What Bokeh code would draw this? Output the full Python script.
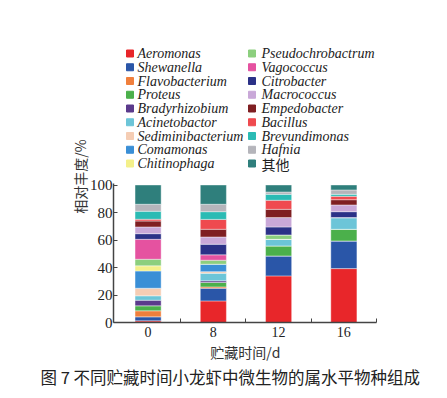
from bokeh.plotting import figure
from bokeh.models import FixedTicker, Title, ColumnDataSource
from bokeh.embed import file_html
from bokeh.resources import INLINE

days = ["0", "8", "12", "16"]
genera = ["Aeromonas", "Shewanella", "Flavobacterium", "Proteus", "Bradyrhizobium",
          "Acinetobactor", "Sediminibacterium", "Comamonas", "Chitinophaga",
          "Pseudochrobactrum", "Vagococcus", "Citrobacter", "Macrococcus",
          "Empedobacter", "Bacillus", "Brevundimonas", "Hafnia", "其他"]

aeromonas = [1.2, 15.7, 33.9, 39.2]
shewanella = [2.9, 9.2, 14.5, 20.1]
flavobacterium = [4.4, 1.0, 0, 0]
proteus = [3.6, 3.2, 7.3, 8.5]
bradyrhizobium = [4.1, 1.2, 0, 0]
acinetobactor = [3.2, 5.5, 4.8, 8.5]
sediminibacterium = [5.5, 1.2, 0, 0]
comamonas = [12.6, 5.4, 0, 0]
chitinophaga = [3.7, 0, 0, 0]
pseudochrobactrum = [4.8, 2.9, 3.2, 0]
vagococcus = [14.5, 3.9, 0, 0]
citrobacter = [4.1, 7.7, 5.8, 4.3]
macrococcus = [4.9, 5.3, 6.8, 4.9]
empedobacter = [4.3, 5.6, 6.0, 3.8]
bacillus = [1.3, 7.2, 6.6, 2.5]
brevundimonas = [5.8, 5.6, 4.3, 1.4]
hafnia = [5.1, 5.4, 1.7, 3.2]
others = [14.0, 14.0, 5.1, 3.6]

series = [aeromonas, shewanella, flavobacterium, proteus, bradyrhizobium,
          acinetobactor, sediminibacterium, comamonas, chitinophaga,
          pseudochrobactrum, vagococcus, citrobacter, macrococcus,
          empedobacter, bacillus, brevundimonas, hafnia, others]

colors = ["#e8262a", "#2a56a8", "#f07f3c", "#4bb04b", "#5b3a8c",
          "#6cc5d8", "#f5cdb4", "#3a8fd6", "#f4f08a",
          "#8ccf7e", "#e552a0", "#2b3187", "#c9a8d8",
          "#7f1f22", "#ef4a4f", "#2bbbb4", "#b5b5bb", "#2f7f7c"]

data = {"x": list(range(len(days)))}
for i, s in enumerate(series):
    data["s%d" % i] = s
source = ColumnDataSource(data)
keys = ["s%d" % i for i in range(len(series))]

# layout: frame also holds the legend area above the bars; axes are bounded to 0-100
W, H = 446, 397
BL, BR, BT, BB = 113, 70, 30, 75
X0, X1 = -0.53, 3.5
frame_h = H - BT - BB
px_per_pct = 137.5 / 100.0
Y1 = frame_h / px_per_pct

p = figure(width=W, height=H, output_backend="svg", toolbar_location=None,
           x_range=(X0, X1), y_range=(0, Y1),
           min_border_left=BL, min_border_right=BR,
           min_border_top=BT, min_border_bottom=BB)
p.outline_line_color = None
p.grid.visible = False

p.vbar_stack(keys, x="x", width=0.4, color=colors, source=source,
             line_color="white", line_width=0.4)

# legend drawn as glyphs, two columns of nine
frame_w = W - BL - BR
def dx(px):
    return X0 + px * (X1 - X0) / frame_w
def dy(px):
    return px / px_per_pct
nrow = 9
row_step = 13.75
lg_x, lg_t, lg_y = [], [], []
for i in range(len(genera)):
    col, row = divmod(i, nrow)
    lg_x.append(dx(16.5 + 122 * col))
    lg_t.append(dx(24 + 124 * col))
    lg_y.append(dy(frame_h - 23 - row_step * row))
leg_src = ColumnDataSource(dict(
    x=lg_x, tx=lg_t, y=lg_y, label=genera, color=colors,
    style=["normal" if g == "其他" else "italic" for g in genera],
    font=["Noto Sans CJK SC" if g == "其他" else "Liberation Serif" for g in genera]))
p.scatter("x", "y", marker="square", size=7, color="color", source=leg_src)
p.text("tx", "y", text="label", text_font="font", text_font_style="style",
       text_font_size="14px", text_color="#222222", text_baseline="middle",
       text_align="left", source=leg_src)

axcol = "#444444"
p.yaxis.bounds = (0, 101)
p.yaxis.ticker = FixedTicker(ticks=[0, 20, 40, 60, 80, 100])
p.yaxis.major_tick_in = 4
p.yaxis.major_tick_out = 0
p.yaxis.minor_tick_line_color = None
p.yaxis.axis_line_color = axcol
p.yaxis.major_tick_line_color = axcol
p.yaxis.axis_line_width = 1.5
p.yaxis.major_label_text_font = "Liberation Serif"
p.yaxis.major_label_text_font_size = "15px"
p.yaxis.major_label_text_color = "#222222"
p.yaxis.major_label_standoff = 1
p.yaxis.axis_label = "相对丰度/%"
p.yaxis.axis_label_text_font = "Noto Sans CJK SC"
p.yaxis.axis_label_text_font_style = "normal"
p.yaxis.axis_label_text_font_size = "14px"
p.yaxis.axis_label_text_color = "#333333"
p.yaxis.axis_label_standoff = -3

p.xaxis.ticker = FixedTicker(ticks=[0, 1, 2, 3], minor_ticks=[0.5, 1.5, 2.5, 3.5])
p.xaxis.major_label_overrides = {i: d for i, d in enumerate(days)}
p.xaxis.major_tick_line_color = None
p.xaxis.minor_tick_in = 4
p.xaxis.minor_tick_out = 0
p.xaxis.minor_tick_line_color = axcol
p.xaxis.axis_line_color = axcol
p.xaxis.axis_line_width = 1.5
p.xaxis.major_label_text_font = "Liberation Serif"
p.xaxis.major_label_text_font_size = "14px"
p.xaxis.major_label_text_color = "#222222"
p.xaxis.major_label_standoff = -2
p.xaxis.axis_label = "贮藏时间/d"
p.xaxis.axis_label_text_font = "Noto Sans CJK SC"
p.xaxis.axis_label_text_font_style = "normal"
p.xaxis.axis_label_text_font_size = "14px"
p.xaxis.axis_label_text_color = "#333333"
p.xaxis.axis_label_standoff = 2

cap = Title(text="图 7 不同贮藏时间小龙虾中微生物的属水平物种组成", align="left",
            text_font="Noto Sans CJK SC", text_font_size="16.5px",
            text_font_style="normal", text_color="#222222", offset=-73, standoff=-4)
p.add_layout(cap, "below")

open("out.html", "w").write(file_html(p, INLINE))
